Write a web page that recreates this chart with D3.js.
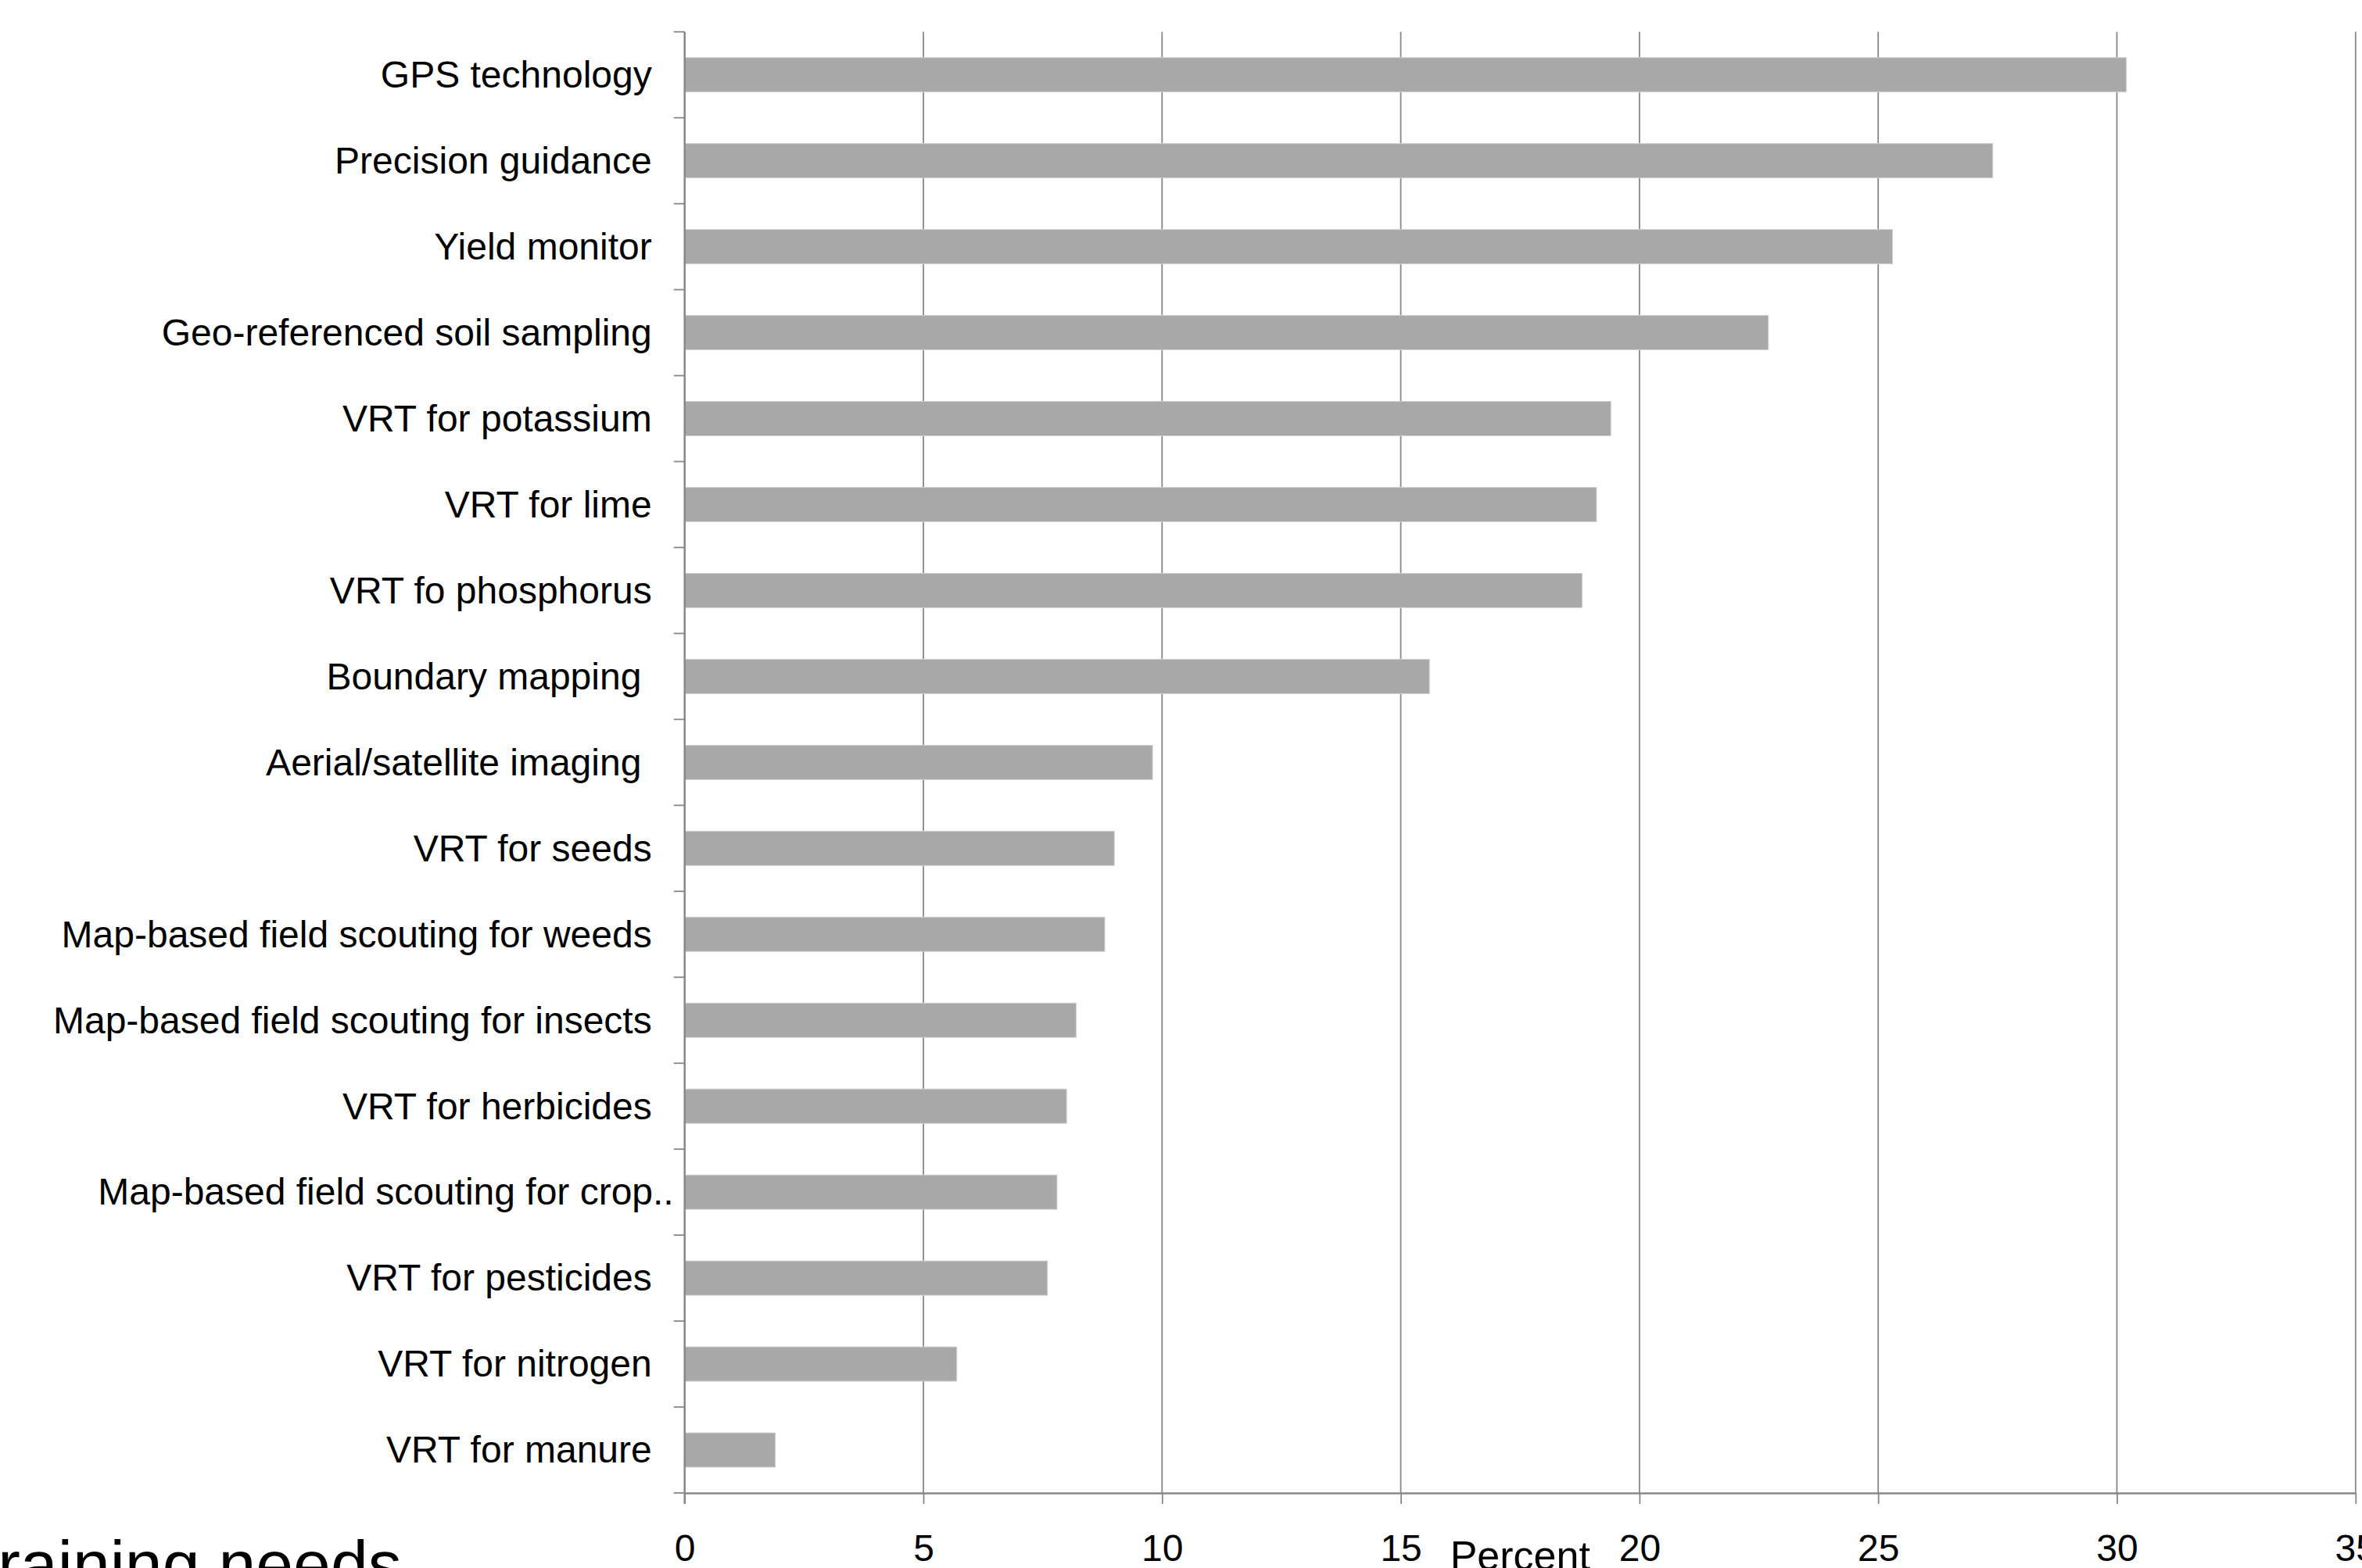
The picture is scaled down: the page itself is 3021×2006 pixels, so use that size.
<!DOCTYPE html>
<html>
<head>
<meta charset="utf-8">
<script src="https://cdn.jsdelivr.net/npm/d3@7"></script>
<style>
  html, body { margin: 0; padding: 0; background: #ffffff; overflow: hidden; }
  svg { display: block; font-family: "Liberation Sans", Arial, Helvetica, sans-serif; }
  text { white-space: pre; }
</style>
</head>
<body>
<svg id="chart" width="3021" height="2006"></svg>
<script>
// Precision agriculture technologies: share of respondents naming each as a training need
const categories = [
  "GPS technology",
  "Precision guidance",
  "Yield monitor",
  "Geo-referenced soil sampling",
  "VRT for potassium",
  "VRT for lime",
  "VRT fo phosphorus",
  "Boundary mapping ",
  "Aerial/satellite imaging ",
  "VRT for seeds",
  "Map-based field scouting for weeds",
  "Map-based field scouting for insects",
  "VRT for herbicides",
  "Map-based field scouting for crop..",
  "VRT for pesticides",
  "VRT for nitrogen",
  "VRT for manure"
];
const percentValues = [30.2, 27.4, 25.3, 22.7, 19.4, 19.1, 18.8, 15.6, 9.8, 9.0, 8.8, 8.2, 8.0, 7.8, 7.6, 5.7, 1.9];
const xTicks = [0, 5, 10, 15, 20, 25, 30, 35];
const xAxisTitle = "Percent";
const slideTitle = "Training needs";

const rows = categories.map((c, i) => ({ category: c, value: percentValues[i] }));

const svg = d3.select("#chart");
const plot = { left: 875.7, right: 3012.8, top: 40.7, bottom: 1910 };
const axisColor = "#888888";

const x = d3.scaleLinear().domain([0, 35]).range([plot.left, plot.right]);
const y = d3.scaleBand()
  .domain(categories)
  .range([plot.top, plot.bottom])
  .paddingInner(0.6)
  .paddingOuter(0.3);

// vertical gridlines
svg.append("g")
  .selectAll("line")
  .data(xTicks.filter(t => t > 0))
  .join("line")
  .attr("x1", d => x(d)).attr("x2", d => x(d))
  .attr("y1", plot.top).attr("y2", plot.bottom)
  .attr("stroke", axisColor)
  .attr("stroke-width", 1.8);

// bars
svg.append("g")
  .selectAll("rect")
  .data(rows)
  .join("rect")
  .attr("x", x(0))
  .attr("y", d => y(d.category))
  .attr("width", d => x(d.value) - x(0))
  .attr("height", y.bandwidth())
  .attr("fill", "#a8a8a8")
  .attr("stroke", "#d2d2d2")
  .attr("stroke-width", 1);

// x axis
const xAxis = svg.append("g")
  .attr("transform", `translate(0,${plot.bottom})`)
  .call(d3.axisBottom(x).tickValues(xTicks).tickSize(14).tickPadding(39).tickSizeOuter(0));
xAxis.select(".domain").attr("stroke", axisColor).attr("stroke-width", 2.5);
xAxis.selectAll(".tick line").attr("stroke", axisColor).attr("stroke-width", 1.8);
xAxis.selectAll(".tick text")
  .attr("fill", "#000000")
  .attr("font-size", 48)
  .attr("font-family", "'Liberation Sans', Arial, sans-serif");

// y axis: category labels at band centres, tick marks at band boundaries
const yAxis = svg.append("g")
  .attr("transform", `translate(${plot.left},0)`)
  .call(d3.axisLeft(y).tickSize(0).tickPadding(42));
yAxis.select(".domain").remove();
yAxis.selectAll(".tick text")
  .attr("fill", "#000000")
  .attr("font-size", 48)
  .attr("font-family", "'Liberation Sans', Arial, sans-serif")
  .attr("dy", "0.34em")
  // truncated labels run right up to the tick marks
  .attr("x", d => d.endsWith("..") ? -14 : -42);

const boundaries = d3.range(categories.length + 1).map(i => y.range()[0] + i * y.step());
svg.append("g")
  .selectAll("line")
  .data(boundaries)
  .join("line")
  .attr("x1", plot.left - 14).attr("x2", plot.left)
  .attr("y1", d => d).attr("y2", d => d)
  .attr("stroke", axisColor)
  .attr("stroke-width", 1.8);

svg.append("line")
  .attr("x1", plot.left).attr("x2", plot.left)
  .attr("y1", plot.top).attr("y2", plot.bottom + 14)
  .attr("stroke", axisColor)
  .attr("stroke-width", 2.5);

// axis title
svg.append("text")
  .attr("x", (plot.left + plot.right) / 2)
  .attr("y", 2008)
  .attr("text-anchor", "middle")
  .attr("font-size", 52)
  .attr("fill", "#000000")
  .text(xAxisTitle);

// slide heading
svg.append("text")
  .attr("x", -52)
  .attr("y", 2031)
  .attr("font-size", 86)
  .attr("fill", "#000000")
  .text(slideTitle);
</script>
</body>
</html>
